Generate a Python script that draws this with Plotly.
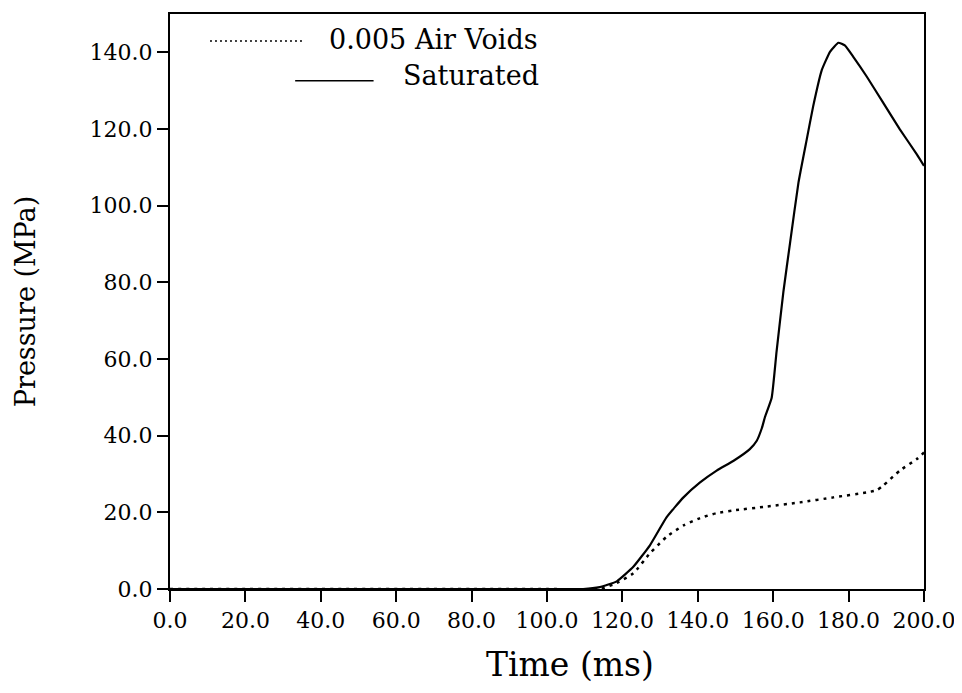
import plotly.graph_objects as go

# Data
sat_time = [0, 100, 109.6, 114, 118.5, 122.9, 127.3, 131.7, 136.2, 140.6, 145, 149.4, 153.8,
            155.6, 157.0, 157.8, 159.6, 160.9, 162.7, 164.5, 166.7, 168.9, 170.6, 172.9, 175.1,
            177.3, 179.0, 181.2, 184.8, 189.2, 193.6, 198.1, 200]
sat_press = [0, 0, 0, 0.5, 2, 5.8, 11.4, 18.7, 23.9, 27.8, 30.9, 33.4, 36.5,
             38.6, 42.0, 44.8, 49.9, 62, 77.5, 90.5, 106, 117.3, 125.9, 135.4, 140.2,
             142.5, 141.8, 138.9, 133.7, 126.8, 119.9, 113.4, 110.4]

air_time = [0, 100, 114, 118.5, 122.9, 127.3, 131.7, 136.2, 140.6, 145, 149.4, 158.3, 167.1,
            176, 184.8, 187.5, 189.2, 193.6, 198.1, 200]
air_press = [0, 0, 0, 1.6, 4.1, 9.3, 13.6, 16.6, 18.5, 19.8, 20.5, 21.5, 22.6,
             23.9, 25.2, 25.8, 27, 30.9, 33.9, 35.6]

x_ticks = [0, 20, 40, 60, 80, 100, 120, 140, 160, 180, 200]
y_ticks = [0, 20, 40, 60, 80, 100, 120, 140]

FONT = "DejaVu Serif"

fig = go.Figure()
fig.add_trace(go.Scatter(x=air_time, y=air_press, mode="lines", name="0.005 Air Voids",
                         line=dict(color="black", width=2.5, dash="3px,5px", shape="spline", smoothing=0.5)))
fig.add_trace(go.Scatter(x=sat_time, y=sat_press, mode="lines", name="Saturated",
                         line=dict(color="black", width=2.2, shape="spline", smoothing=0.4)))

# Manual legend (line samples + text)
fig.add_shape(type="line", xref="paper", yref="paper", x0=0.053, x1=0.179, y0=0.953, y1=0.953,
              line=dict(color="black", width=1.5, dash="2px,3px"))
fig.add_shape(type="line", xref="paper", yref="paper", x0=0.166, x1=0.270, y0=0.884, y1=0.884,
              line=dict(color="black", width=1.5))
fig.add_annotation(xref="paper", yref="paper", x=0.208, y=0.955, text="0.005 Air Voids",
                   showarrow=False, xanchor="left", yanchor="middle",
                   font=dict(family=FONT, size=27, color="black"))
fig.add_annotation(xref="paper", yref="paper", x=0.306, y=0.893, text="Saturated",
                   showarrow=False, xanchor="left", yanchor="middle",
                   font=dict(family=FONT, size=27, color="black"))

# x-axis title (placed slightly right of centre as in the reference)
fig.add_annotation(xref="paper", yref="paper", x=0.53, y=-0.132, text="Time (ms)",
                   showarrow=False, xanchor="center", yanchor="middle",
                   font=dict(family=FONT, size=33, color="black"))

# page body has an 8px margin, so the figure is shifted by 8px right/down
fig.update_layout(
    width=954, height=685,
    margin=dict(l=162, r=38, t=4, b=104),
    plot_bgcolor="white", paper_bgcolor="white",
    showlegend=False,
    font=dict(family=FONT, color="black"),
)
fig.update_xaxes(range=[0, 200], tickvals=x_ticks, ticktext=[f"{v:.1f}" for v in x_ticks],
                 showgrid=False, zeroline=False, showline=True, linecolor="black", linewidth=2,
                 mirror=True, ticks="outside", ticklen=11, tickwidth=1.5, tickcolor="black",
                 tickfont=dict(family=FONT, size=22))
fig.update_yaxes(range=[0, 150], tickvals=y_ticks, ticktext=[f"{v:.1f}" for v in y_ticks],
                 showgrid=False, zeroline=False, showline=True, linecolor="black", linewidth=2,
                 mirror=True, ticks="outside", ticklen=11, tickwidth=1.5, tickcolor="black",
                 tickfont=dict(family=FONT, size=22),
                 title=dict(text="Pressure (MPa)", font=dict(family=FONT, size=27), standoff=46))

fig.write_html("out.html")
